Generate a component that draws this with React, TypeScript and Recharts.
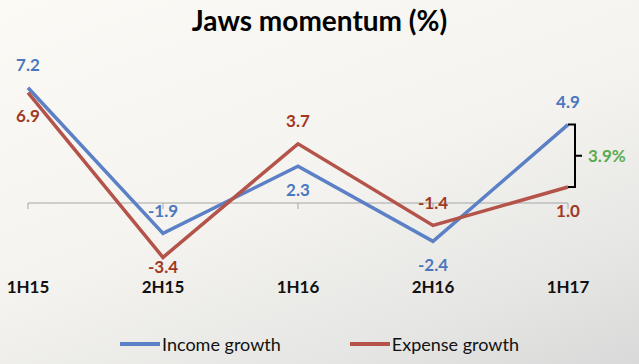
import React from 'react';
import { LineChart, Line, XAxis, YAxis, ReferenceLine, Legend, LabelList } from 'recharts';

const periods = ['1H15', '2H15', '1H16', '2H16', '1H17'];
const incomeGrowth = [7.2, -1.9, 2.3, -2.4, 4.9];
const expenseGrowth = [6.9, -3.4, 3.7, -1.4, 1.0];
const seriesNames = ['Income growth', 'Expense growth'];

const BLUE_LINE = '#5b80c6';
const BLUE_TEXT = '#4a78c0';
const RED_LINE = '#b4534a';
const RED_TEXT = '#a0391f';
const GREEN = '#5aab50';
const FONT = 'Lato, "Noto Sans", sans-serif';

const data = periods.map((p, i) => ({
  period: p,
  income: incomeGrowth[i],
  expense: expenseGrowth[i]
}));

// label goes above when this series is the higher one at that point,
// labels below are kept clear of the category labels
const makeLabel = (mine: number[], other: number[], color: string) => (props: any) => {
  const { x, y, index } = props;
  const above = mine[index] >= other[index];
  return (
    <text
      x={x}
      y={above ? y - 23 : Math.min(y + 23, 266)}
      textAnchor="middle"
      dominantBaseline="central"
      fill={color}
      fontFamily={FONT}
      fontWeight={700}
      fontSize={17}
    >
      {mine[index].toFixed(1)}
    </text>
  );
};

const AxisTick = (props: any) => {
  const { x, y, payload } = props;
  return (
    <text x={x} y={y + 3} textAnchor="middle" dominantBaseline="central" fill="#111" fontFamily={FONT} fontWeight={700} fontSize={17}>
      {payload.value}
    </text>
  );
};

// small tick mark hanging below the zero line
const ZeroTick = (props: any) => {
  const { x1, y1 } = props;
  return <line x1={x1} y1={y1} x2={x1} y2={y1 + 6} stroke="#a6a6a6" strokeWidth={1} />;
};

const gap = incomeGrowth[incomeGrowth.length - 1] - expenseGrowth[expenseGrowth.length - 1];

const Bracket = (props: any) => {
  const { x1, y1, y2 } = props;
  const bx = x1 + 7;
  const mid = (y1 + y2) / 2;
  return (
    <g>
      <path
        d={`M${x1},${y1} H${bx} V${y2} H${x1} M${bx},${mid} H${bx + 7}`}
        stroke="#000"
        strokeWidth={2}
        fill="none"
      />
      <text x={bx + 13} y={mid} dominantBaseline="central" fill={GREEN} fontFamily={FONT} fontWeight={700} fontSize={17}>
        {gap.toFixed(1)}%
      </text>
    </g>
  );
};

const LegendContent = () => (
  <div style={{ display: 'flex', justifyContent: 'center', height: 24, alignItems: 'center', fontFamily: FONT, fontSize: 18, color: '#111' }}>
    {seriesNames.map((name, i) => (
      <div key={name} style={{ display: 'flex', alignItems: 'center', marginRight: i === 0 ? 69 : 0 }}>
        <div style={{ width: 40, height: 4, background: i === 0 ? BLUE_LINE : RED_LINE, marginRight: 2 }} />
        <span>{name}</span>
      </div>
    ))}
  </div>
);

export default function App() {
  return (
    <div
      style={{
        position: 'absolute',
        left: 0,
        top: 0,
        width: 639,
        height: 364,
        overflow: 'hidden',
        background: 'linear-gradient(160deg, #fbfaf5 0%, #f4f3ef 50%, #e6e6e4 80%, #d9d9d9 100%)'
      }}
    >
      <div
        style={{
          position: 'absolute',
          top: 3,
          left: 0,
          width: 639,
          textAlign: 'center',
          fontFamily: FONT,
          fontWeight: 700,
          fontSize: 28,
          color: '#000'
        }}
      >
        Jaws momentum (%)
      </div>
      <LineChart
        width={639}
        height={364}
        data={data}
        margin={{ top: 75, right: 71, left: 28, bottom: 27 }}
      >
        <XAxis
          dataKey="period"
          axisLine={false}
          tickLine={false}
          tickSize={0}
          tickMargin={0}
          height={30}
          interval={0}
          tick={<AxisTick />}
        />
        <YAxis hide type="number" domain={[-5, 8]} />
        <ReferenceLine y={0} stroke="#a6a6a6" strokeWidth={1} />
        {periods.map(p => (
          <ReferenceLine
            key={p}
            segment={[{ x: p, y: 0 }, { x: p, y: 0 }]}
            shape={ZeroTick}
          />
        ))}
        <Line
          type="linear"
          dataKey="income"
          name={seriesNames[0]}
          stroke={BLUE_LINE}
          strokeWidth={3.5}
          dot={false}
          activeDot={false}
          isAnimationActive={false}
        >
          <LabelList dataKey="income" content={makeLabel(incomeGrowth, expenseGrowth, BLUE_TEXT)} />
        </Line>
        <Line
          type="linear"
          dataKey="expense"
          name={seriesNames[1]}
          stroke={RED_LINE}
          strokeWidth={3.5}
          dot={false}
          activeDot={false}
          isAnimationActive={false}
        >
          <LabelList dataKey="expense" content={makeLabel(expenseGrowth, incomeGrowth, RED_TEXT)} />
        </Line>
        <ReferenceLine
          segment={[
            { x: periods[periods.length - 1], y: incomeGrowth[incomeGrowth.length - 1] },
            { x: periods[periods.length - 1], y: expenseGrowth[expenseGrowth.length - 1] }
          ]}
          shape={Bracket}
        />
        <Legend
          verticalAlign="bottom"
          height={24}
          wrapperStyle={{ bottom: 8, left: 0, width: 639 }}
          content={<LegendContent />}
        />
      </LineChart>
    </div>
  );
}
